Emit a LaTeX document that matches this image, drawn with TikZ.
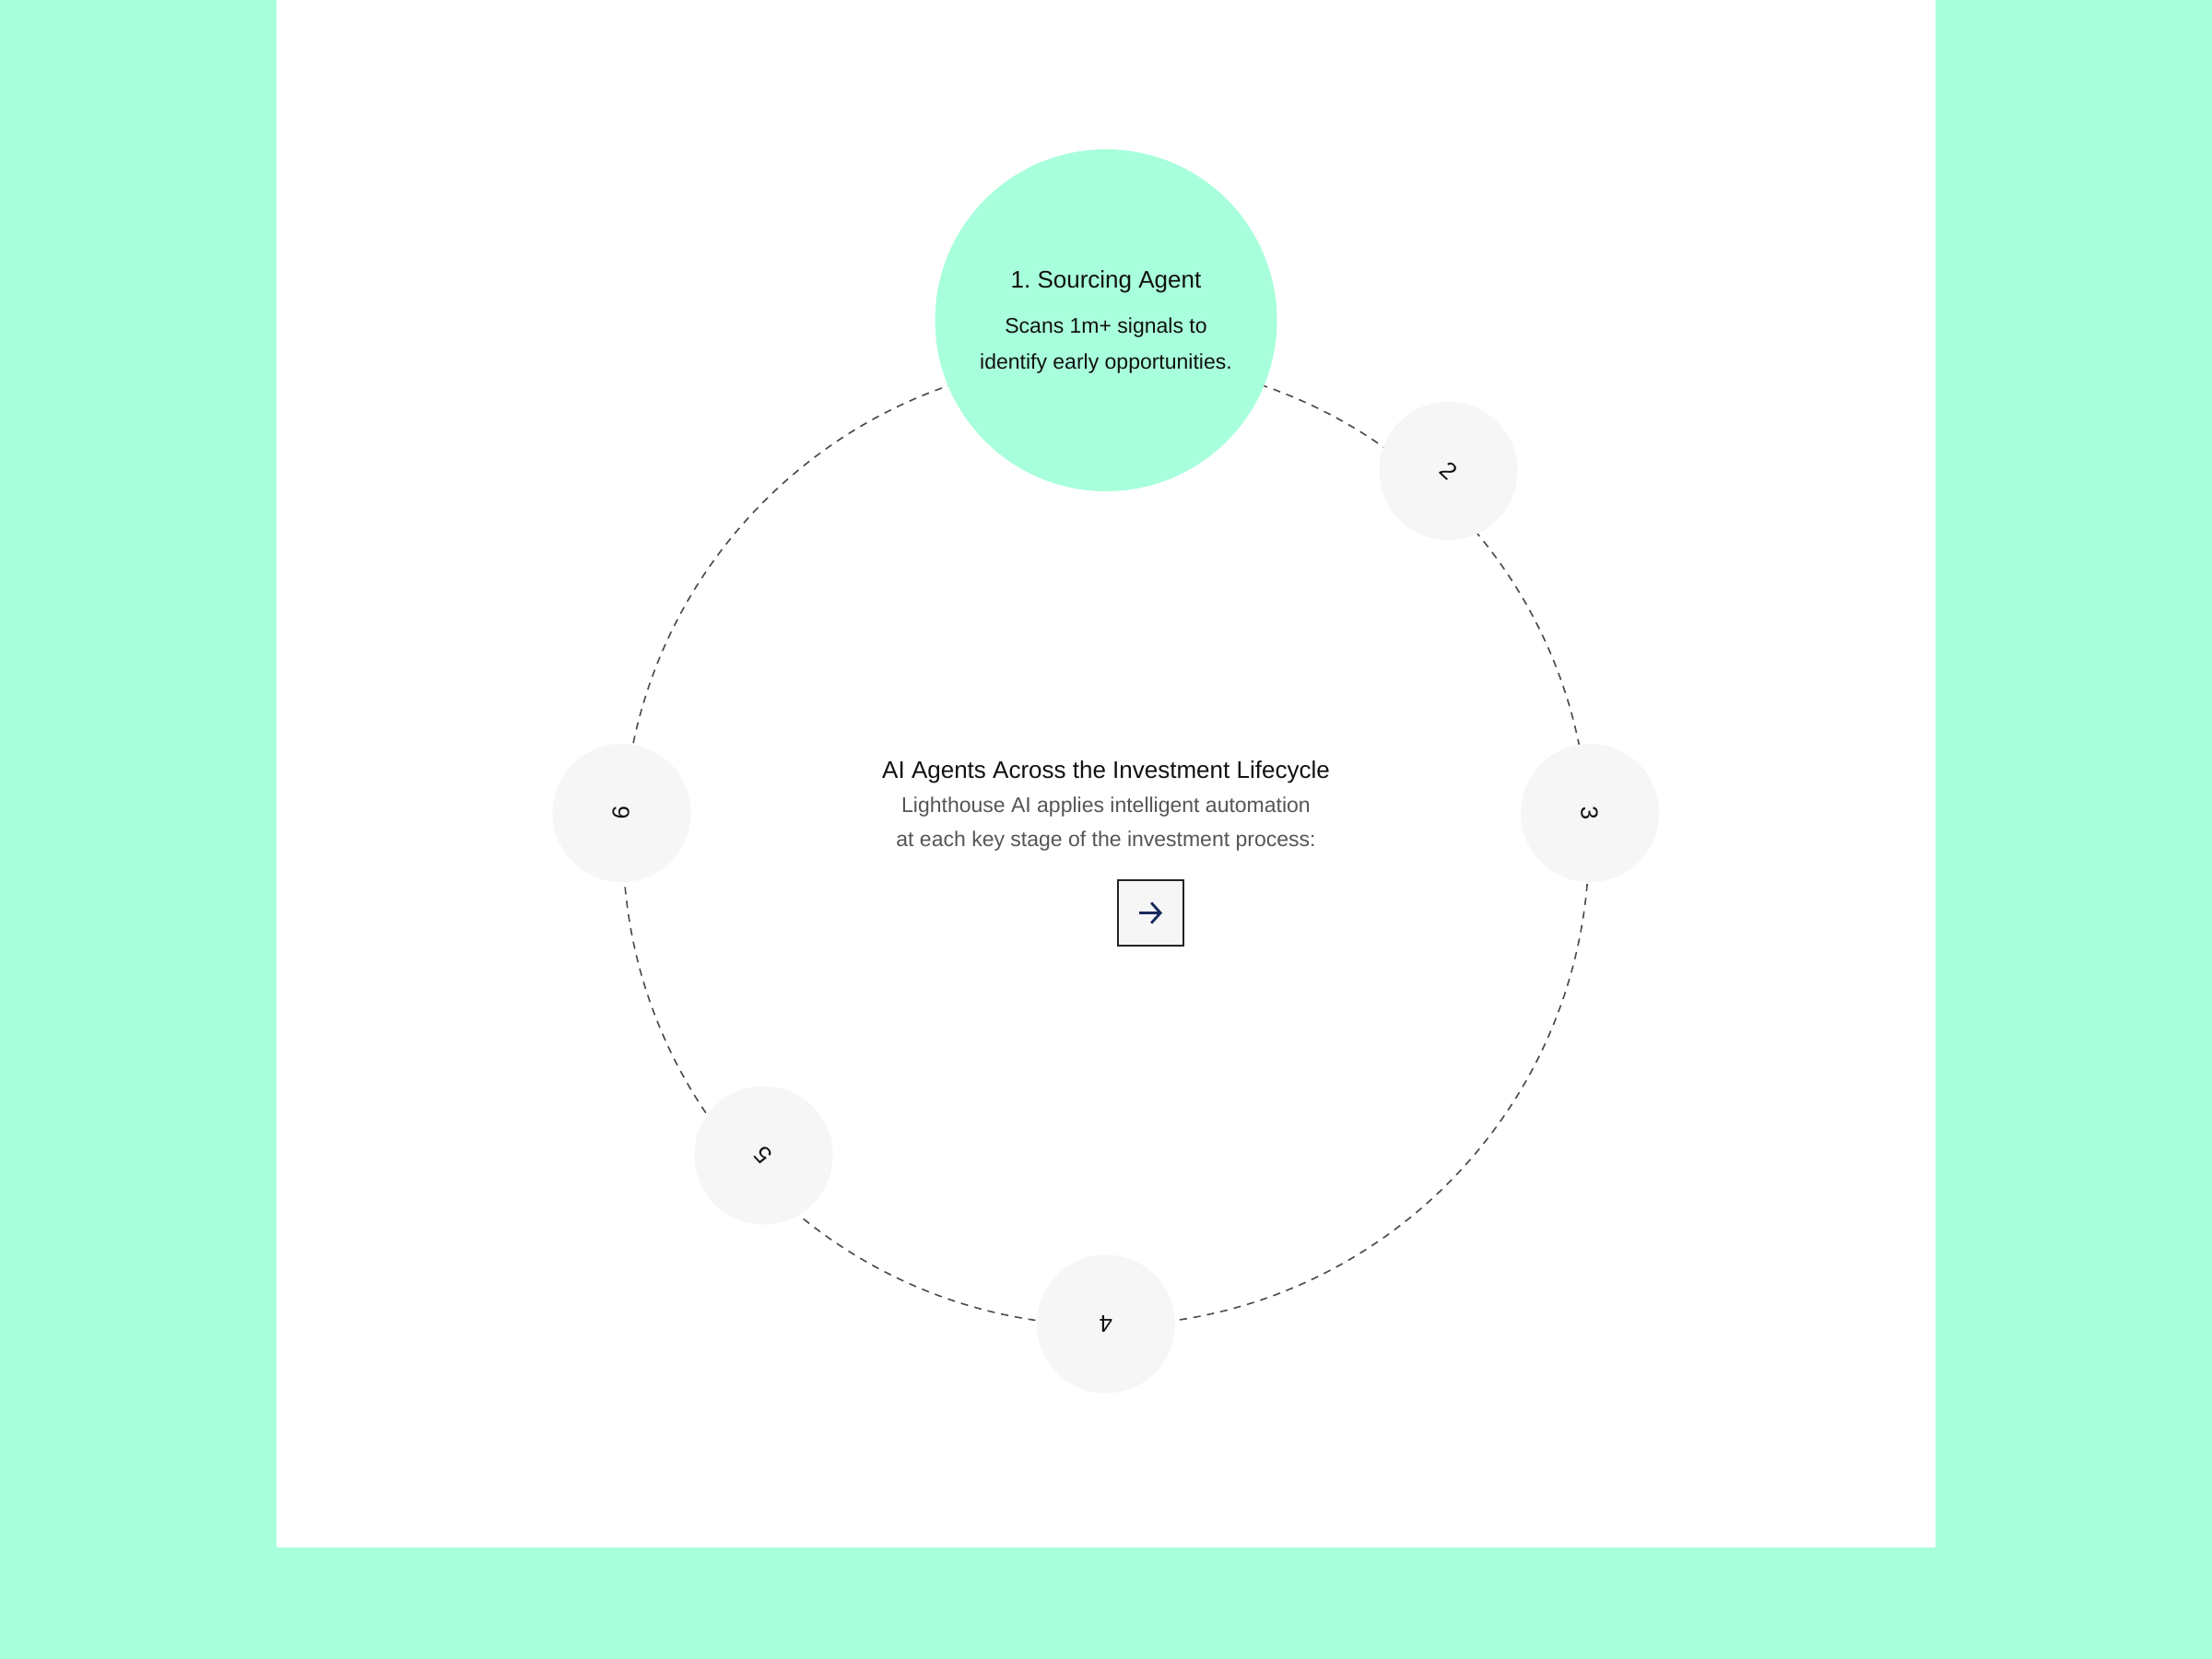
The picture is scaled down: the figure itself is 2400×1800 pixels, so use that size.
\documentclass[tikz,border=0pt]{standalone}
\usepackage{fontspec}
\setmainfont{Liberation Sans}
\usetikzlibrary{arrows.meta}
\definecolor{mint}{RGB}{168,255,220}
\definecolor{bubble}{RGB}{246,246,246}
\definecolor{ringgray}{RGB}{75,75,75}
\definecolor{subgray}{RGB}{85,85,85}
\definecolor{navy}{RGB}{22,42,92}
\definecolor{ink}{RGB}{17,17,17}
\definecolor{boxedge}{RGB}{34,34,34}
\frenchspacing
\begin{document}
\begin{tikzpicture}[x=0.5pt,y=-0.5pt,
  ring/.style={draw=ringgray, line width=0.8pt, dash pattern=on 4pt off 3.5pt},
  stagebig/.style={circle, fill=mint, minimum size=185.5pt, inner sep=0pt},
  stagesmall/.style={circle, fill=bubble, minimum size=75pt, inner sep=0pt},
  numtext/.style={font=\fontsize{13pt}{15pt}\selectfont, text=ink, inner sep=0pt},
  headtext/.style={anchor=base, font=\fontsize{13pt}{16pt}\selectfont, text=ink, inner sep=0pt},
  desctext/.style={anchor=base, font=\fontsize{11.5pt}{14pt}\selectfont, text=ink, inner sep=0pt},
  subtext/.style={anchor=base, font=\fontsize{11.5pt}{14pt}\selectfont, text=subgray, inner sep=0pt},
  gobox/.style={draw=boxedge, fill=bubble, line width=1pt, minimum size=35.5pt, inner sep=0pt}
]
\useasboundingbox (0,0) rectangle (2400,1800);
\fill[mint] (0,0) rectangle (2400,1800);
\fill[white] (300,0) rectangle (2100,1679);

% ring
\coordinate (ctr) at (1200,914);
\draw[ring] (ctr) circle[radius=524];

% stage 1
\node[stagebig] (s1) at (1200,347.5) {};
\node[headtext] (s1title) at (1200,312) {1. Sourcing Agent};
\node[desctext] (s1d1) at (1200,361) {Scans 1m+ signals to};
\node[desctext] (s1d2) at (1200,400) {identify early opportunities.};

% other stages
\node[stagesmall] (s2) at (1571.5,511) {};
\node[numtext, rotate=-43] (n2) at (s2) {2};
\node[stagesmall] (s3) at (1725,882) {};
\node[numtext, rotate=-86.5] (n3) at (s3) {3};
\node[stagesmall] (s4) at (1200,1436.5) {};
\node[numtext, rotate=180] (n4) at (s4) {4};
\node[stagesmall] (s5) at (828.5,1253.5) {};
\node[numtext, rotate=132.4] (n5) at (s5) {5};
\node[stagesmall] (s6) at (674.5,882) {};
\node[numtext, rotate=86.5] (n6) at (s6) {6};

% centre text
\node[headtext] (ctitle) at (1200,844) {AI Agents Across the Investment Lifecycle};
\node[subtext] (csub1) at (1200,881) {Lighthouse AI applies intelligent automation};
\node[subtext] (csub2) at (1200,918) {at each key stage of the investment process:};

% arrow button
\node[gobox] (go) at (1248,990.5) {};
\coordinate (goL) at (1236,990.5);
\coordinate (goR) at (1261,990.5);
\draw[navy, line width=1.4pt, -{Straight Barb[length=5pt, width=11pt, line width=1.4pt]}] (goL) -- (goR);
\end{tikzpicture}
\end{document}
